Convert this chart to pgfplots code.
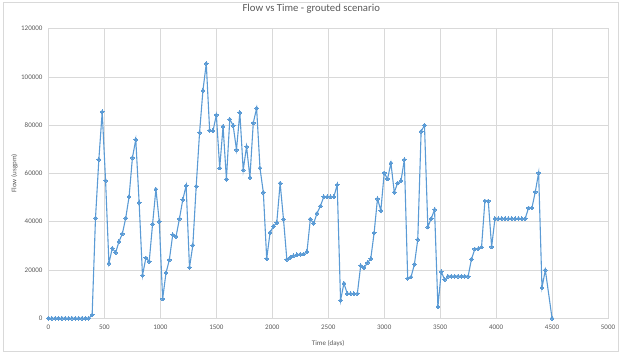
\documentclass[border=0pt]{standalone}
\usepackage{pgfplots}
\pgfplotsset{compat=1.18}
\usepackage{fontspec}
\setmainfont{Carlito}
\definecolor{txt}{HTML}{595959}
\definecolor{grd}{HTML}{D9D9D9}
\definecolor{ser}{HTML}{5B9BD5}
\begin{document}
\begin{tikzpicture}[x=1pt,y=1pt]
\path[use as bounding box] (-48.5,-35.7) rectangle (574.5,318.3);
\draw[grd, line width=0.6pt] (-45.5,-33) rectangle (570,315.5);
\begin{axis}[
  at={(0,0)}, anchor=south west,
  scale only axis, width=559.5pt, height=289.8pt,
  xmin=0, xmax=5000, ymin=0, ymax=120000,
  xtick={0,500,1000,1500,2000,2500,3000,3500,4000,4500,5000},
  xticklabels={0,500,1000,1500,2000,2500,3000,3500,4000,4500,5000},
  ytick={0,20000,40000,60000,80000,100000,120000},
  yticklabels={0,20000,40000,60000,80000,100000,120000},
  scaled ticks=false,
  grid=major, major grid style={grd, line width=0.6pt},
  axis line style={grd, line width=0.6pt},
  major tick length=0pt,
  tick label style={font=\fontsize{7}{8}\selectfont, text=txt},
  xticklabel style={yshift=-3pt},
  yticklabel style={xshift=-2.5pt},
  title={Flow vs Time - grouted scenario},
  title style={font=\fontsize{10.7}{12}\selectfont, text=txt, at={(axis description cs:0.5,1)}, anchor=center, xshift=-17pt, yshift=14pt},
  xlabel={Time (days)},
  ylabel={Flow (usgpm)},
  every axis x label/.style={at={([yshift=-25pt]axis description cs:0.5,0)}, anchor=center, font=\fontsize{7}{8}\selectfont, text=txt},
  every axis y label/.style={at={([xshift=-34pt]axis description cs:0,0.5)}, anchor=center, rotate=90, font=\fontsize{7}{8}\selectfont, text=txt},
]
\addplot[ser, line width=1.1pt, mark=*, mark size=1.9pt, mark options={fill=ser, draw=ser, line width=0pt}] table {
x y
0 0
30 0
60 0
90 0
120 0
150 0
180 0
210 0
240 0
270 0
300 0
330 0
360 0
390 1400
420 41500
450 65800
480 85500
510 57000
540 22800
570 29000
600 27200
630 31800
660 35000
690 41500
720 50300
750 66500
780 74000
810 47900
840 17700
870 25000
900 23500
930 39000
960 53500
990 40100
1020 8000
1050 18800
1080 24200
1110 34600
1140 33900
1170 41200
1200 49100
1230 54900
1260 21000
1290 30300
1320 54700
1350 76900
1380 94300
1410 105500
1440 77800
1470 77600
1500 84200
1530 62200
1560 79500
1590 57600
1620 82400
1650 79900
1680 69800
1710 85200
1740 61400
1770 71100
1800 58300
1830 80900
1860 87000
1890 62200
1920 52100
1950 24700
1980 35500
2010 38100
2040 39600
2070 56000
2100 41000
2130 24400
2160 25200
2190 25900
2220 26300
2250 26500
2280 26600
2310 27600
2340 41100
2370 39300
2400 43500
2430 46500
2460 50300
2490 50300
2520 50300
2550 50300
2580 55300
2610 7400
2640 14500
2670 10200
2700 10200
2730 10200
2760 10200
2790 21800
2820 20900
2850 23000
2880 24700
2910 35400
2940 49500
2970 44600
3000 60200
3030 57700
3060 64300
3090 52200
3120 56000
3150 56900
3180 65700
3210 16600
3240 17100
3270 22400
3300 32600
3330 77400
3360 79900
3390 37800
3420 41300
3450 45000
3480 4800
3510 19300
3540 16000
3570 17400
3600 17400
3630 17400
3660 17400
3690 17400
3720 17400
3750 17400
3780 24500
3810 28700
3840 28800
3870 29500
3900 48600
3930 48600
3960 29600
3990 41300
4020 41300
4050 41300
4080 41300
4110 41300
4140 41300
4170 41300
4200 41300
4230 41300
4260 41300
4290 45700
4320 45700
4350 52300
4380 60200
4410 12700
4440 20000
4500 0
};
\end{axis}
\end{tikzpicture}
\end{document}
